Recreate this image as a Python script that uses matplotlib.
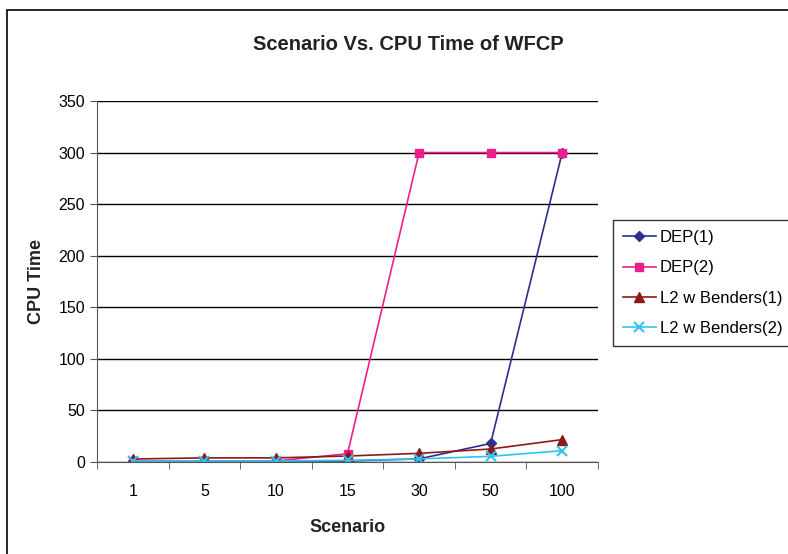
import numpy as np
import matplotlib
matplotlib.use("Agg")
import matplotlib.pyplot as plt
from matplotlib.patches import Rectangle

scenarios = ["1", "5", "10", "15", "30", "50", "100"]
dep1 = [0.5, 0.5, 1, 1, 3, 18, 300]
dep2 = [0.5, 0.5, 1, 8, 300, 300, 300]
l2_benders1 = [2.9, 4, 4, 5.8, 8.4, 12.6, 21.7]
l2_benders2 = [1, 1, 1, 1.6, 3, 5.5, 11]

plt.rcParams['font.family'] = ['Liberation Sans', 'DejaVu Sans']

fig = plt.figure(figsize=(7.88, 5.54), dpi=100)
ax = fig.add_axes([97 / 788, 92 / 554, 501 / 788, 361 / 554])

# outer chart border (cut off at right and bottom)
fig.patches.append(Rectangle((7 / 788, -0.1), 1.1, 0.1 + 544 / 554, transform=fig.transFigure,
                             fill=False, edgecolor="black", linewidth=1.2, clip_on=False))

x = np.arange(len(scenarios))
ax.plot(x, dep1, color="#2b2f8f", marker="D", markersize=5.5, linewidth=1.2, label="DEP(1)")
ax.plot(x, dep2, color="#ee1f8c", marker="s", markersize=5.5, linewidth=1.2, label="DEP(2)")
ax.plot(x, l2_benders1, color="#8b1a1a", marker="^", markersize=6.5, linewidth=1.2, label="L2 w Benders(1)")
ax.plot(x, l2_benders2, color="#2ec4ef", marker="x", markersize=7, markeredgewidth=1.5, linewidth=1.2,
        label="L2 w Benders(2)")

ax.set_xlim(-0.5, len(scenarios) - 0.5)
ax.set_ylim(0, 350)
ax.set_yticks(np.arange(0, 351, 50))
ax.set_xticks(x)
ax.set_xticklabels(scenarios)
ax.set_xticks(np.arange(-0.5, len(scenarios), 1), minor=True)
ax.tick_params(axis="x", which="major", length=0, pad=16, labelsize=11.5)
ax.tick_params(axis="x", which="minor", length=5, color="#555555", direction="out")
ax.tick_params(axis="y", length=5, color="#555555", direction="out", labelsize=11.5)

ax.grid(axis="y", color="black", linewidth=1)
ax.set_axisbelow(True)
for s in ["top", "right"]:
    ax.spines[s].set_visible(False)
ax.spines["left"].set_color("#555555")
ax.spines["bottom"].set_color("#555555")

fig.text(408 / 788, 1 - 44 / 554, "Scenario Vs. CPU Time of WFCP", fontsize=14.5, fontweight="bold",
         ha="center", va="center", color="#222222")
ax.set_xlabel("Scenario", fontsize=13, fontweight="bold", labelpad=14, color="#222222")
ax.set_ylabel("CPU Time", fontsize=13, fontweight="bold", labelpad=10, color="#222222")

leg = ax.legend(loc="upper left", bbox_to_anchor=(613 / 788, 1 - 220 / 554), bbox_transform=fig.transFigure,
                frameon=True, fancybox=False, edgecolor="black", fontsize=12, handlelength=1.97,
                handletextpad=0.25, borderaxespad=0, borderpad=0.6, labelspacing=0.92)
leg.get_frame().set_linewidth(1)

fig.savefig("out.png", dpi=100)
